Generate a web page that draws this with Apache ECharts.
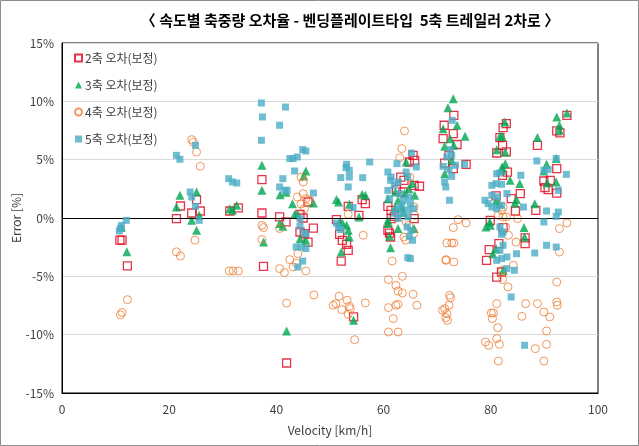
<!DOCTYPE html>
<html><head><meta charset="utf-8">
<script src="https://cdn.jsdelivr.net/npm/echarts@6/dist/echarts.min.js"></script>
<style>html,body{margin:0;padding:0;background:#fff}#c{width:639px;height:446px}</style>
</head><body><div id="c"></div>
<script>
const titleText = '〈 속도별 축중량 오차율 - 벤딩플레이트타입  5축 트레일러 2차로 〉';
const seriesNames = ['2축 오차(보정)', '3축 오차(보정)', '4축 오차(보정)', '5축 오차(보정)'];
const yTicks = [-15, -10, -5, 0, 5, 10, 15];
const xTicks = [0, 20, 40, 60, 80, 100];

const axle2 = [[10.8,-1.9],[11.2,-1.9],[12.2,-4.1],[22.1,1.03],[21.35,-0.05],
[25.1,1.58],[25.8,0.6],[24.2,0.43],[31.3,0.6],[32.9,0.86],[37.3,3.29],[37.3,0.43],[37.6,-4.14],
[40.6,0.09],[41.8,-0.34],[45.9,1.37],[44.4,0.3],[45.0,0.0],[46.9,-0.86],[44.4,-1.2],[45.2,-1.34],[45.9,-2.06],[41.9,-12.43],
[51.2,-0.14],[51.8,-1.4],[52.3,-1.91],[53.1,-2.25],[53.4,-2.77],[52.1,-3.69],[53.4,1.0],[55.4,0.23],[56.0,1.58],[56.6,1.23],[54.4,-8.48],
[65.5,5.37],[65.8,4.94],[64.8,4.8],[63.2,3.51],[63.8,3.23],[66.7,2.72],[65.7,2.8],[62.4,2.43],[63.6,2.23],[60.8,1.0],[61.4,0.66],[62.0,0.14],[61.4,-0.05],[65.7,-0.05],[60.8,-1.05],[61.1,-1.3],[61.3,-1.63],
[73.1,8.8],[71.3,7.95],[73.0,7.23],[71.1,6.8],[73.7,6.3],[72.2,5.37],[71.4,4.7],[73.0,4.23],[75.4,4.6],
[82.3,7.75],[82.9,8.09],[81.7,6.89],[82.2,6.23],[82.9,5.66],[81.1,5.57],[83.1,3.94],[82.2,3.66],[85.5,2.09],[83.8,1.66],[81.0,1.9],[84.6,0.6],[79.9,-0.2],[82.3,-0.82],[81.5,-2.2],[79.7,-2.71],[79.2,-3.63],[86.4,-2.2],[86.4,-1.7],[82.0,-4.63],[81.1,-5.06],
[94.2,8.8],[92.3,7.46],[92.9,7.29],[88.7,6.23],[92.3,4.23],[89.9,3.17],[91.1,3.23],[90.1,2.6],[90.7,2.43],[92.3,2.14],[88.4,0.66]];

const axle3 = [[11.1,-0.8],[12.1,-2.9],[22.0,1.95],[21.35,0.94],[25.1,2.23],[24.2,-0.2],[25.6,0.23],[25.1,-1.05],
[31.3,0.8],[32.6,1.09],[31.8,0.66],[37.3,4.52],[37.3,2.37],[37.6,-2.06],
[40.7,2.0],[41.8,2.2],[43.0,1.23],[45.5,4.03],[45.1,3.6],[46.9,1.29],[43.4,0.3],[44.0,0.3],[40.6,-0.48],[41.2,-0.71],[44.4,-1.77],[45.5,-1.91],[41.9,-9.68],
[51.2,1.58],[51.6,1.37],[53.6,1.17],[56.0,2.03],[56.6,1.95],[55.4,0.09],[51.8,-0.4],[52.3,-0.4],[53.1,-0.63],[53.4,-1.05],[53.6,-1.63],[52.1,-2.91],[54.4,-8.77],
[64.2,4.8],[65.4,2.95],[65.8,1.95],[62.2,2.23],[63.9,2.09],[64.7,2.5],[60.8,1.66],[62.7,1.52],[63.4,0.94],[62.2,0.9],[63.7,0.5],[60.8,-0.2],[60.8,-0.48],[62.7,-0.91],[61.1,-1.57],[65.7,-0.9],[61.3,-2.54],
[73.0,10.23],[72.0,9.46],[71.1,7.66],[72.4,6.8],[71.4,6.15],[73.7,7.95],[75.2,7.0],[73.1,6.23],[71.4,3.8],[72.7,4.94],
[82.6,8.23],[81.7,7.0],[82.1,7.0],[81.1,5.86],[82.7,5.66],[82.1,4.37],[82.7,4.66],[82.1,4.09],[83.6,3.23],[85.4,2.95],[84.8,1.58],[84.5,1.29],[81.0,1.5],[81.6,1.2],[79.1,-0.77],[79.9,-0.63],[79.8,-0.34],[81.0,-2.63],[80.4,-3.06],[82.3,-4.48],[86.2,-0.82],[86.3,-1.63],
[92.3,8.66],[94.2,9.0],[92.8,7.95],[92.8,7.52],[88.7,6.89],[90.4,4.6],[92.2,5.09],[89.9,4.03],[90.5,3.0],[92.2,3.09],[88.2,1.23]];

const axle4 = [[12.2,-7.0],[10.9,-8.3],[11.2,-8.1],[21.35,-2.9],[22.1,-3.26],[24.8,-1.9],[24.2,6.72],[24.5,6.5],[25.1,5.66],[25.8,4.43],
[31.2,-4.54],[31.9,-4.54],[32.9,-4.54],[37.3,-0.63],[37.6,-0.82],[37.3,-1.85],
[44.6,3.51],[45.0,3.09],[43.9,1.8],[45.0,2.09],[45.5,1.66],[46.2,1.52],[44.6,1.2],[45.2,0.8],[40.6,-0.9],[42.5,-3.57],[43.7,-3.86],[43.1,-4.2],[40.6,-4.34],[41.5,-4.68],[45.5,-4.54],[44.0,-3.05],[41.9,-7.29],[47.0,-6.6],
[53.4,0.32],[56.2,-1.48],[51.7,-6.71],[50.6,-7.48],[51.1,-7.34],[52.2,-7.85],[53.2,-7.05],[53.6,-7.57],[53.8,-7.77],[53.4,-8.25],[56.6,-7.28],[54.6,-10.43],
[60.9,-5.28],[62.3,-5.77],[63.5,-5.0],[62.7,-6.26],[63.5,-6.43],[65.5,-6.54],[66.2,-7.48],[60.9,-7.68],[62.3,-7.48],[62.7,-7.4],[61.8,-8.62],[60.9,-9.77],[62.7,-9.77],
[63.9,7.46],[63.4,5.95],[63.0,5.17],[61.6,-3.69],[65.7,0.94],[64.2,-0.34],[64.7,-0.63],[63.8,-1.63],[65.6,-1.34],[64.9,3.5],[65.8,0.23],[64.1,-1.9],
[71.8,-2.14],[71.7,-3.57],[73.9,-0.14],[75.4,-0.43],[73.0,-0.82],[72.7,-2.14],[73.1,-2.14],[71.6,-3.63],[73.1,-3.77],[72.3,-6.63],[72.5,-6.83],[72.2,-7.48],[71.4,-7.77],[71.0,-7.91],[71.8,-8.2],[71.6,-8.54],[71.9,-8.77],
[82.3,0.94],[82.0,0.66],[81.4,0.23],[82.3,0.09],[82.9,0.09],[85.0,-0.05],[82.8,-0.77],[83.3,-1.48],[84.7,-2.06],[82.2,-4.48],[82.2,-5.28],[83.2,-5.91],[84.2,-4.05],[81.1,-7.34],[80.1,-8.14],[80.5,-8.14],[80.3,-8.62],[85.8,-8.43],[86.5,-7.34],[81.3,-9.4],[79.0,-10.63],[79.6,-10.91],[81.1,-10.34],[81.6,-10.83],[81.4,-12.26],
[94.2,-0.43],[92.8,-0.91],[92.8,-2.91],[92.3,-5.49],[88.7,-7.34],[92.3,-7.2],[92.4,-7.48],[89.9,-8.06],[91.0,-8.48],[90.4,-9.68],[90.4,-10.83],[88.3,-11.2],[89.9,-12.26]];

const axle5 = [[10.7,-1.11],[11.1,-0.63],[12.0,-0.2],[10.9,-0.9],[21.35,5.37],[22.0,5.03],[23.9,2.23],[24.9,6.23],[24.9,1.0],[25.6,-0.2],[24.2,1.8],
[31.1,3.37],[31.8,3.09],[32.6,3.0],[37.2,9.86],[37.4,8.66],[37.2,6.66],
[41.7,9.51],[40.6,7.95],[41.2,3.37],[40.6,2.66],[41.6,2.37],[42.0,2.37],[42.5,5.09],[43.1,5.09],[43.9,5.23],[44.9,5.86],[45.5,5.74],[43.4,4.03],[46.9,2.14],[44.4,-0.05],[44.4,-0.7],[45.2,-1.29],[45.5,-1.34],[43.7,-2.49],[44.6,-2.49],[45.5,-2.62],[44.9,-3.69],[44.0,-4.2],
[53.1,4.6],[53.0,4.32],[53.6,4.09],[53.6,3.51],[52.0,3.46],[53.4,2.66],[56.1,3.46],[57.4,4.8],[54.3,0.89],[51.2,-0.43],[51.6,-0.77],[52.0,-1.0],
[65.2,5.57],[62.5,4.66],[66.1,4.37],[60.8,3.94],[61.4,3.51],[61.3,3.23],[64.2,3.94],[64.5,3.51],[62.7,3.09],[62.0,2.8],[60.8,2.37],[61.1,1.66],[63.0,2.09],[63.7,1.52],[63.4,1.09],[62.5,0.8],[64.7,1.8],[65.0,1.23],[65.6,0.8],[64.5,0.66],[63.3,0.43],[62.7,-0.05],[64.5,0.09],[62.0,0.4],[64.4,-0.77],[65.1,-1.05],[64.8,-1.57],[65.4,-1.91],[64.5,-3.4],[65.0,-3.48],
[72.8,8.37],[72.4,5.86],[72.7,5.37],[71.8,5.23],[71.1,4.43],[72.2,4.15],[73.4,4.52],[75.1,4.6],[72.7,3.57],[71.4,3.09],[71.6,2.66],[72.3,1.52],
[81.1,3.8],[81.7,3.86],[80.2,2.8],[81.0,2.95],[82.0,2.89],[83.0,2.09],[85.6,3.66],[78.9,1.52],[80.2,1.95],[81.2,1.8],[79.5,1.23],[80.2,0.94],[81.1,0.8],[82.0,1.09],[86.1,0.94],[81.7,-0.77],[82.3,-1.2],[82.0,-1.4],[82.3,-2.34],[81.7,-2.77],[83.0,-3.34],[81.1,-3.63],[82.0,-3.48],[84.8,-3.06],[84.4,-4.48],[83.0,-4.34],[83.8,-6.77],[86.3,-10.91],
[92.2,5.09],[88.6,4.89],[94.1,3.74],[89.9,4.09],[90.7,4.15],[92.6,2.37],[90.4,0.6],[92.6,0.51],[92.2,0.14],[89.9,-0.34],[90.4,-2.34],[92.2,-2.49],[88.2,-3.0]];

const FONT = '"Noto Sans CJK KR", "Noto Sans", sans-serif';
const chart = echarts.init(document.getElementById('c'), null, {renderer: 'canvas'});
chart.setOption({
  animation: false,
  backgroundColor: '#fff',
  textStyle: {fontFamily: FONT},
  title: {
    text: titleText, left: 345, top: 8, textAlign: 'center',
    textStyle: {fontFamily: FONT, fontSize: 15, fontWeight: 'bold', color: '#000'}
  },
  graphic: [{type: 'rect', shape: {x: 0.5, y: 0.5, width: 638, height: 445}, style: {fill: 'none', stroke: '#8c8c8c', lineWidth: 1}, silent: true}],
  legend: {
    orient: 'vertical', left: 69, top: 47, itemGap: 15, itemWidth: 7, itemHeight: 7,
    textStyle: {fontFamily: FONT, fontSize: 12, color: '#404040', padding: [0, 0, 0, -2]},
    data: seriesNames
  },
  grid: {left: 62, right: 41, top: 43, bottom: 53, show: true, borderColor: '#000', borderWidth: 1, containLabel: false, outerBoundsMode: 'none'},
  xAxis: {
    type: 'value', min: xTicks[0], max: xTicks[xTicks.length-1], interval: 20,
    name: 'Velocity [km/h]', nameLocation: 'middle', nameGap: 31, nameMoveOverlap: false,
    nameTextStyle: {fontFamily: FONT, fontSize: 12, color: '#404040'},
    axisLine: {show: true, onZero: false, lineStyle: {color: '#000'}},
    axisTick: {show: false}, splitLine: {show: false},
    axisLabel: {fontFamily: FONT, fontSize: 12, color: '#404040', margin: 10}
  },
  yAxis: {
    type: 'value', min: yTicks[0], max: yTicks[yTicks.length-1], interval: 5,
    name: 'Error [%]', nameLocation: 'middle', nameGap: 40, nameRotate: 90, nameMoveOverlap: false,
    nameTextStyle: {fontFamily: FONT, fontSize: 12, color: '#404040'},
    axisLine: {show: true, lineStyle: {color: '#000'}},
    axisTick: {show: false},
    splitLine: {show: true, lineStyle: {color: '#d9d9d9', width: 1}},
    axisLabel: {fontFamily: FONT, fontSize: 12, color: '#404040', margin: 8, formatter: '{value}%'}
  },
  series: [
    {name: seriesNames[0], type: 'scatter', data: axle2, symbol: 'rect', symbolSize: 8,
     itemStyle: {color: 'rgba(255,255,255,0)', borderColor: '#e0001a', borderWidth: 1.3}, z: 2,
     markLine: {silent: true, symbol: 'none', label: {show: false}, lineStyle: {color: '#000', width: 1, type: 'solid'}, data: [{yAxis: 0}]}},
    {name: seriesNames[1], type: 'scatter', data: axle3, symbol: 'triangle', symbolSize: 9,
     itemStyle: {color: '#00a651'}, z: 3},
    {name: seriesNames[2], type: 'scatter', data: axle4, symbol: 'circle', symbolSize: 8,
     itemStyle: {color: 'rgba(255,255,255,0)', borderColor: '#ed7d31', borderWidth: 1}, z: 4},
    {name: seriesNames[3], type: 'scatter', data: axle5, symbol: 'rect', symbolSize: 7,
     itemStyle: {color: '#4bacc6'}, z: 5}
  ]
});
</script></body></html>
